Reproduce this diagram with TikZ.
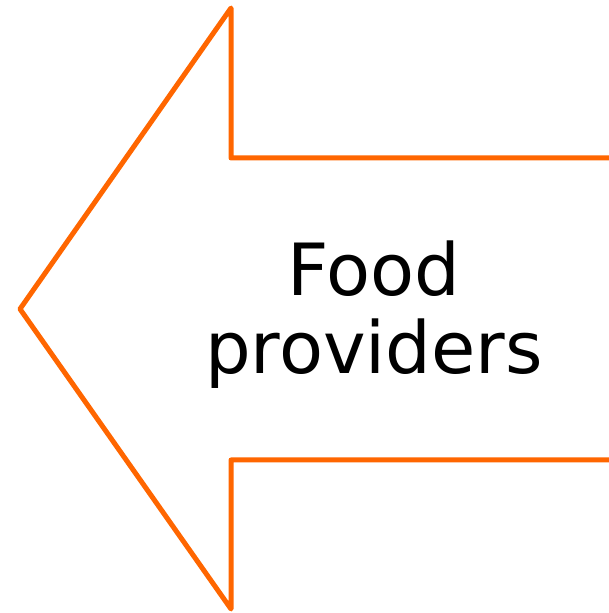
\documentclass[tikz,border=0pt]{standalone}
\usepackage{fontspec}
\setmainfont{DejaVu Sans}
\usetikzlibrary{positioning}
\definecolor{fpOrange}{HTML}{FF6600}
\tikzset{
  arrowline/.style={draw=fpOrange, line width=5pt, line join=round, line cap=round},
  label/.style={font=\fontsize{72}{78}\selectfont, align=center, text=black, inner sep=0pt}
}
\begin{document}
\begin{tikzpicture}[x=1pt, y=1pt]
  \useasboundingbox (0,0) rectangle (608,613);
  \coordinate (tip) at (20,304);
  \coordinate (htop) at (231,605);
  \coordinate (hbot) at (231,4);
  \coordinate (stop) at (231,455);
  \coordinate (sbot) at (231,153);
  \coordinate (etop) at (610,455);
  \coordinate (ebot) at (610,153);
  \draw[arrowline] (etop) -- (stop) -- (htop) -- (tip) -- (hbot) -- (sbot) -- (ebot);
  \node[label] (txt) at (374,298) {Food\\providers};
\end{tikzpicture}
\end{document}
